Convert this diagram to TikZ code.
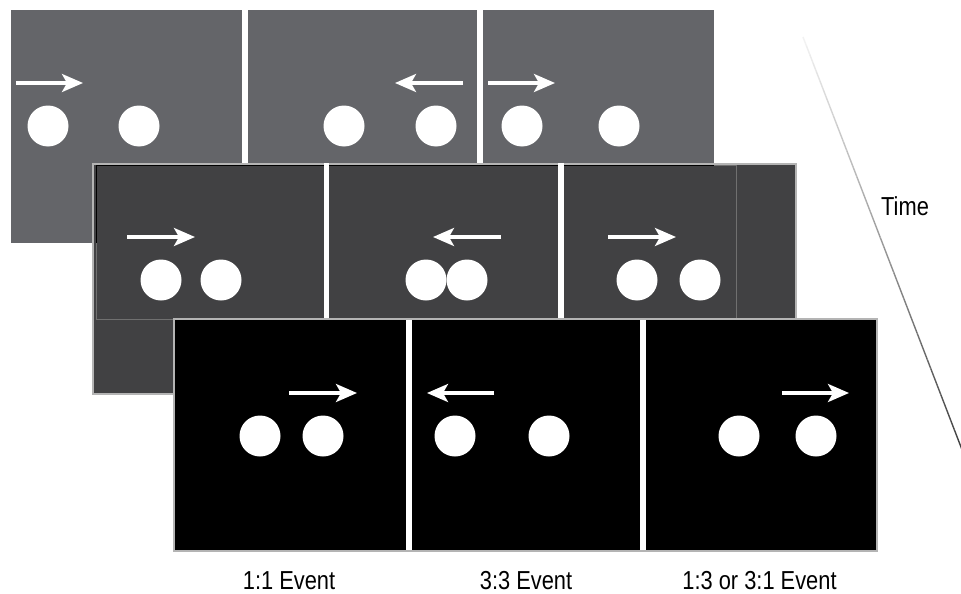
\documentclass[tikz,border=0pt]{standalone}
\usepackage{fontspec}
\setmainfont{Liberation Sans}[FakeStretch=0.84]
\usetikzlibrary{arrows.meta,calc}
\definecolor{layerA}{HTML}{646569}
\definecolor{layerB}{HTML}{414143}
\definecolor{edgegray}{HTML}{B4B4B4}
\definecolor{innergray}{HTML}{707070}
\tikzset{
  motion/.style={draw=white, line width=3.3pt, -{Stealth[length=21pt, width=18pt, inset=5pt]}},
  dot/.style={fill=white},
  divider/.style={fill=white},
  lbl/.style={font=\fontsize{26}{30}\selectfont, anchor=base, inner sep=0pt},
}
\begin{document}
\begin{tikzpicture}[x=1pt,y=-1pt]
\useasboundingbox (0,0) rectangle (961,594);
\clip (0,0) rectangle (961,594);
\fill[white] (0,0) rectangle (961,594);

% ---------- top layer ----------
\fill[layerA] (11,10) rectangle (714,243);
\fill[divider] (242,10) rectangle (248,243);
\fill[divider] (477,10) rectangle (483,243);
\draw[motion] (16,83) -- (83,83);
\fill[dot] (48,126) circle (20.5);
\fill[dot] (139,126) circle (20.5);
\draw[motion] (463,83) -- (395,83);
\fill[dot] (344,126) circle (20.5);
\fill[dot] (436,126) circle (20.5);
\draw[motion] (488,83) -- (555,83);
\fill[dot] (522,126) circle (20.5);
\fill[dot] (619,126) circle (20.5);

% ---------- middle layer ----------
\filldraw[fill=layerB, draw=edgegray, line width=2pt] (93,164) rectangle (796,394);
\draw[innergray, line width=0.6pt] (96,165) rectangle (736,319);
\draw[black, line width=0.8pt] (96.4,243) -- (96.4,165.4) -- (714,165.4);
\fill[divider] (324,163) rectangle (329,318);
\fill[divider] (558,163) rectangle (564,318);
\draw[motion] (127,237) -- (195,237);
\fill[dot] (161,280) circle (20.5);
\fill[dot] (221,280) circle (20.5);
\draw[motion] (501,237) -- (433,237);
\fill[dot] (426,280) circle (20.5);
\fill[dot] (467,280) circle (20.5);
\draw[motion] (608,237) -- (676,237);
\fill[dot] (637,280) circle (20.5);
\fill[dot] (700,280) circle (20.5);

% ---------- bottom layer ----------
\filldraw[fill=black, draw=edgegray, line width=2pt] (174,319) rectangle (877,551);
\fill[divider] (406,320) rectangle (412,550);
\fill[divider] (640,320) rectangle (646,550);
\draw[motion] (289,393) -- (357,393);
\fill[dot] (260,436) circle (20.5);
\fill[dot] (323,436) circle (20.5);
\draw[motion] (494,393) -- (427,393);
\fill[dot] (455,436) circle (20.5);
\fill[dot] (549,436) circle (20.5);
\draw[motion] (782,393) -- (849,393);
\fill[dot] (739,436) circle (20.5);
\fill[dot] (816,436) circle (20.5);

% ---------- labels ----------
\node[lbl] (l1) at (289,589) {1:1 Event};
\node[lbl] (l2) at (526,589) {3:3 Event};
\node[lbl] (l3) at (759.5,589) {1:3 or 3:1 Event};
\node[lbl, anchor=base west] (time) at (881,215) {Time};

% ---------- time axis (gradient line) ----------
\coordinate (tstart) at (803,37);
\coordinate (tend) at (971,473);
\foreach \i in {0,...,49}{
  \pgfmathsetmacro{\pa}{\i/50}
  \pgfmathsetmacro{\pb}{(\i+1)/50}
  \pgfmathsetmacro{\shade}{5+75*\pa}
  \draw[black!\shade, line width=1.4pt] ($(tstart)!\pa!(tend)$) -- ($(tstart)!\pb!(tend)$);
}
\draw[black!80, line width=1.4pt, -{Stealth[length=14pt, width=10pt, inset=3pt]}] ($(tstart)!0.96!(tend)$) -- (tend);
\end{tikzpicture}
\end{document}
